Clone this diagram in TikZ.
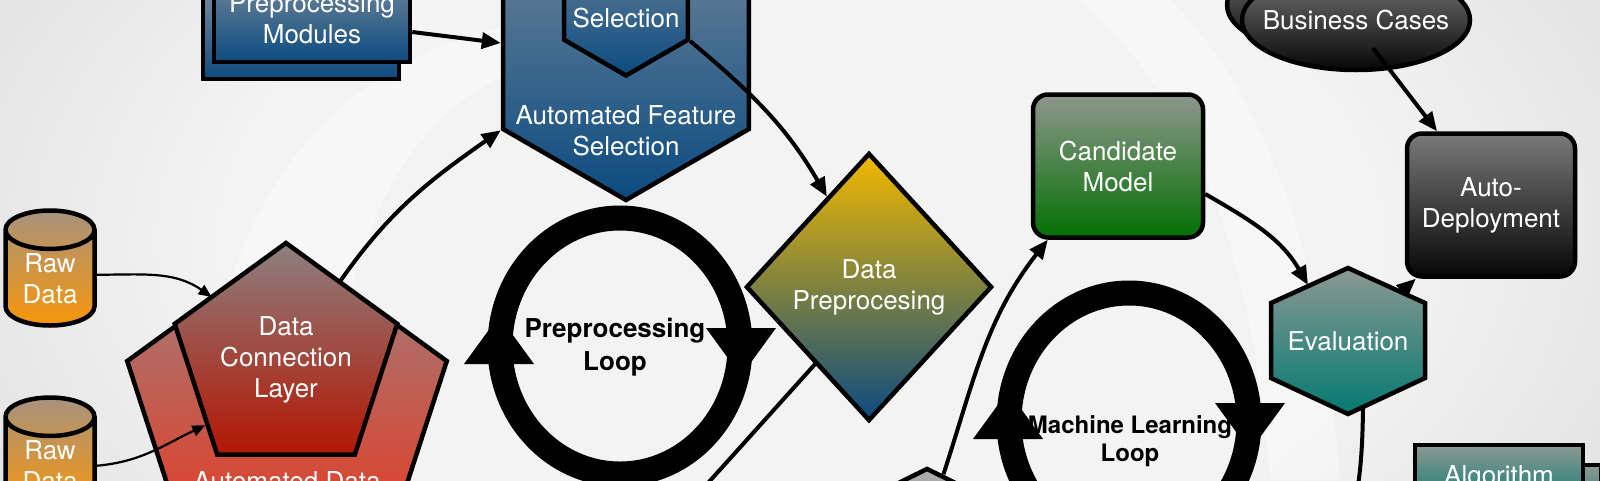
\documentclass[tikz,border=0pt]{standalone}
\usepackage{fontspec}
\setmainfont{TeX Gyre Heros}
\usetikzlibrary{shapes.geometric, arrows.meta, calc}

% colours
\definecolor{bgin}{HTML}{F3F3F3}
\definecolor{bgout}{HTML}{C2C1C3}
\definecolor{bgcorner}{HTML}{B8B7B9}
\definecolor{bluetop}{HTML}{74879A}
\definecolor{bluebot}{HTML}{0B4B80}
\definecolor{redtop}{HTML}{9A8282}
\definecolor{redbot}{HTML}{E8381F}
\definecolor{dredtop}{HTML}{8C8080}
\definecolor{dredbot}{HTML}{B41602}
\definecolor{orangetop}{HTML}{A8927C}
\definecolor{orangebot}{HTML}{F8960A}
\definecolor{goldtop}{HTML}{F2B800}
\definecolor{goldmid}{HTML}{868A3E}
\definecolor{greentop}{HTML}{8E968C}
\definecolor{greenbot}{HTML}{047004}
\definecolor{darktop}{HTML}{7A7A7A}
\definecolor{darkbot}{HTML}{060606}
\definecolor{tealtop}{HTML}{8C9892}
\definecolor{tealbot}{HTML}{037A72}
\definecolor{greyfill}{HTML}{8C8C8C}

\pgfdeclareradialshading{backdrop}{\pgfpoint{0bp}{0bp}}{%
    color(0bp)=(bgin); color(18bp)=(bgin); color(50bp)=(bgout); color(80bp)=(bgcorner)}

\tikzset{
    block/.style={draw=black, line width=4.5pt, text=white, align=center, inner sep=0pt,
        font=\fontsize{26}{31}\selectfont},
    caption/.style={text=white, align=center, inner sep=0pt, font=\fontsize{26}{31}\selectfont},
    looplabel/.style={text=black, align=center, inner sep=0pt, font=\bfseries\fontsize{26}{33}\selectfont},
    bluebox/.style={block, rectangle, minimum width=196pt, minimum height=86pt,
        top color=bluetop, bottom color=bluebot},
    hexa/.style={block, regular polygon, regular polygon sides=6, regular polygon rotate=30,
        top color=bluetop, bottom color=bluebot},
    penta/.style={block, regular polygon, regular polygon sides=5},
    rawdata/.style={block, cylinder, shape border rotate=90, aspect=0.7, anchor=shape center,
        minimum width=89pt, minimum height=115pt, top color=orangetop, bottom color=orangebot},
    darkoval/.style={draw=black, line width=4.5pt, top color=darktop, bottom color=darkbot},
    roundbox/.style={block, rectangle, rounded corners=15pt, minimum width=170pt, minimum height=143pt},
    tealbox/.style={block, rectangle, minimum width=168pt, minimum height=66pt,
        top color=tealtop, bottom color=tealbot},
    evalhex/.style={draw=black, line width=4.5pt, top color=tealtop, bottom color=tealbot},
    ring/.style={draw=black, line width=25pt},
    swoosh/.style={fill=white, opacity=0.35},
    arr/.style={line width=4pt, -{Triangle[length=19pt, width=16pt]}},
    thinarr/.style={line width=2.2pt, -{Triangle[length=13pt, width=11pt]}}
}

\begin{document}
\begin{tikzpicture}[x=1pt, y=-1pt]
    \useasboundingbox (0,0) rectangle (1600,480);
    \clip (0,0) rectangle (1600,480);

    % backdrop
    \shade[shading=backdrop] (0,-240) rectangle (1600,720);
    \fill[swoosh] (205,480) .. controls (195,260) and (300,60) .. (520,25)
        -- (520,70) .. controls (400,110) and (330,260) .. (330,480) -- cycle;
    \fill[swoosh] (1080,0) .. controls (1180,90) and (1250,220) .. (1270,480)
        -- (1340,480) .. controls (1320,220) and (1250,80) .. (1170,0) -- cycle;

    \coordinate (ppl) at (620,346);
    \coordinate (mll) at (1129,421);
    \coordinate (evc) at (1348,341);
    \coordinate (bcc) at (1356,20);
    \coordinate (offdpp) at (690,503);
    \coordinate (offeval) at (1355,505);

    % loops
    \foreach \lp in {ppl, mll}
    {
        \draw[ring] (\lp) ellipse [x radius=120pt, y radius=128pt];
    }
    \node[looplabel] (ppltext) at (615,347) {Preprocessing\\Loop};
    \node[looplabel, font=\bfseries\fontsize{24}{28}\selectfont] (mlltext) at (1130,441) {Machine Learning\\Loop};
    \foreach \lp in {ppl, mll}
    {
        \fill ($(\lp)+(-156,18)$) -- ($(\lp)+(-86,18)$) -- ($(\lp)+(-121,-30)$) -- cycle;
        \fill ($(\lp)+(86,-18)$) -- ($(\lp)+(156,-18)$) -- ($(\lp)+(121,30)$) -- cycle;
    }

    % preprocessing modules
    \node[bluebox] (modsback) at (301,36) {};
    \node[bluebox] (mods) at (312,19) {Preprocessing\\Modules};

    % feature selection
    \node[hexa, minimum size=284pt] (afs) at (626,58) {};
    \node[hexa, minimum size=143pt] (sel) at (626,4) {};
    \node[caption] (seltext) at (626,18) {Selection};
    \node[caption] (afstext) at (626,131) {Automated Feature\\Selection};

    % data connection
    \node[penta, minimum size=336pt, top color=redtop, bottom color=redbot] (adl) at (287,413) {};
    \node[caption] (adltext) at (287,481) {Automated Data};
    \node[penta, minimum size=234pt, top color=dredtop, bottom color=dredbot] (dcl) at (286,360) {Data\\Connection\\Layer};

    % raw data
    \foreach \n/\y in {raw1/268, raw2/455}
    {
        \node[rawdata] (\n) at (50,\y) {Raw\\Data};
    }

    % preprocessing diamond
    \node[block, diamond, minimum width=246pt, minimum height=268pt,
        top color=goldtop, middle color=goldmid, bottom color=bluebot] (dpp) at (869,287) {Data\\Preprocesing};
    \node[block, diamond, minimum width=160pt, minimum height=80pt,
        top color=greyfill!70, bottom color=greyfill] (gbox) at (927,508) {};

    % model side
    \node[roundbox, top color=greentop, bottom color=greenbot] (cand) at (1118,166) {Candidate\\Model};
    \node[roundbox, minimum width=168pt, top color=darktop, bottom color=darkbot] (dep) at (1491,205) {Auto-\\Deployment};
    \path[darkoval] ($(bcc)+(-15,-15)$) ellipse [x radius=114pt, y radius=50pt];
    \path[darkoval] (bcc) ellipse [x radius=114pt, y radius=50pt];
    \node[caption] (bc) at (bcc) {Business Cases};
    \node[tealbox] (algoback) at (1517,498) {};
    \node[tealbox] (algo) at (1499,478) {Algorithm};

    % evaluation
    \path[evalhex] ($(evc)+(0,-73)$) -- ($(evc)+(77,-38)$) -- ($(evc)+(77,37)$)
        -- ($(evc)+(0,73)$) -- ($(evc)+(-77,37)$) -- ($(evc)+(-77,-38)$) -- cycle;
    \node[caption, minimum width=155pt, minimum height=145pt] (eval) at (evc) {Evaluation};

    % connectors
    \draw[arr] ([yshift=-13]mods.east) -- ([yshift=15]afs.west);
    \draw[arr] (adl.68) to[out=55, in=215] (afs.210);
    \draw[thinarr] ([yshift=4]raw1.east) to[out=0, in=145] (adl.123);
    \draw[thinarr] (raw2.east) to[out=5, in=205] (dcl.219);
    \draw[arr] (sel.330) to[out=-40, in=120] (dpp.115);
    \draw[arr] (dpp.235) -- (offdpp);
    \draw[arr] (gbox.64) to[out=72, in=232] ([xshift=17]cand.south west);
    \draw[arr] ([yshift=-28]cand.east) to[out=-30, in=120] ([shift={(-40,-56)}]eval.center);
    \draw[arr] ([shift={(52,-48)}]eval.center) -- ([xshift=11]dep.south west);
    \draw[arr] ([shift={(17,28)}]bc.center) -- ([xshift=-54]dep.north);
    \draw[arr] ([shift={(15,67)}]eval.center) to[bend left=4] (offeval);
\end{tikzpicture}
\end{document}
